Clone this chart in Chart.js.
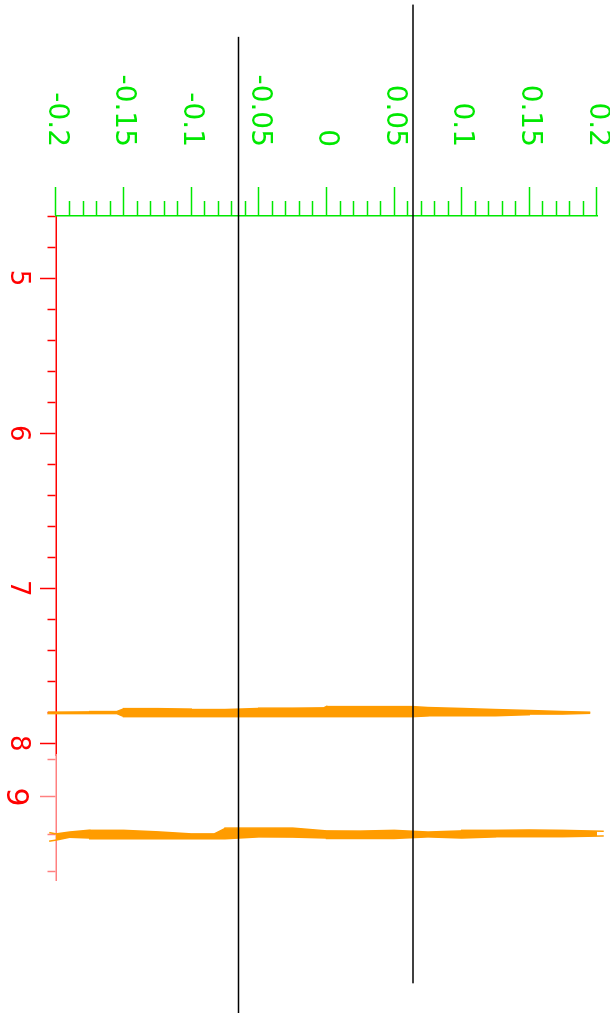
<!DOCTYPE html>
<html>
<head>
<meta charset="utf-8">
<script src="https://cdn.jsdelivr.net/npm/chart.js@4.4.1/dist/chart.umd.min.js"></script>
<style>
  html, body { margin: 0; padding: 0; background: #fff; overflow: hidden; }
  /* the chart is drawn upright and then turned a quarter clockwise */
  #wrap {
    position: absolute; left: 0; top: 0; width: 1013px; height: 610px;
    transform-origin: 0 0; transform: translate(610px, 0) rotate(90deg);
  }
</style>
</head>
<body>
<div id="wrap"><canvas id="chart" width="1013" height="610"></canvas></div>
<script>
// tick labels
const yTickLabels = ['-0.2', '-0.15', '-0.1', '-0.05', '0', '0.05', '0.1', '0.15', '0.2'];
const xTickLabels = ['5', '6', '7', '8'];
const x2TickLabels = ['9'];

// first line (near 7.8): edges of the trace along y
const band1Y  = [-0.206, -0.175, -0.155, -0.15, -0.125, -0.1, -0.075, -0.05, -0.025, -0.002, 0, 0.025, 0.05, 0.064, 0.075, 0.1, 0.125, 0.15, 0.175, 0.195];
const band1Lo = [7.799, 7.797, 7.795, 7.778, 7.776, 7.779, 7.782, 7.775, 7.773, 7.771, 7.762, 7.763, 7.762, 7.764, 7.769, 7.775, 7.782, 7.788, 7.795, 7.799];
const band1Hi = [7.806, 7.808, 7.808, 7.826, 7.827, 7.829, 7.826, 7.827, 7.827, 7.827, 7.829, 7.830, 7.828, 7.827, 7.823, 7.823, 7.821, 7.815, 7.811, 7.806];

// second line (near 9.2)
const band2Y  = [-0.223, -0.205, -0.2, -0.19, -0.175, -0.15, -0.125, -0.1, -0.083, -0.075, -0.05, -0.025, 0, 0.025, 0.05, 0.075, 0.1, 0.125, 0.15, 0.175, 0.205];
const band2Lo = [9.181, 9.190, 9.197, 9.187, 9.177, 9.178, 9.186, 9.197, 9.197, 9.168, 9.166, 9.166, 9.181, 9.182, 9.178, 9.187, 9.181, 9.178, 9.176, 9.178, 9.183];
const band2Hi = [9.192, 9.236, 9.230, 9.215, 9.219, 9.224, 9.224, 9.224, 9.224, 9.219, 9.213, 9.214, 9.219, 9.224, 9.219, 9.213, 9.219, 9.213, 9.211, 9.213, 9.208];

// black marker lines
const markerLevels = [-0.065, 0.064];
const markerFrom = [3.445, 3.237];
const markerTo = [9.8, 9.547];

const GREEN = '#00e800';
const RED = '#ff0000';
const PINK = '#ff8080';
const ORANGE = '#ff9c00';
const FONT = 'DejaVu Sans';

const toPoints = (ys, xs) => ys.map((y, i) => ({x: xs[i], y: y}));
const isLabelled = (labels, value) => labels.includes(String(value));

function markerDataset(i) {
    return {
        data: [{x: markerFrom[i], y: markerLevels[i]}, {x: markerTo[i], y: markerLevels[i]}],
        xAxisID: 'x',
        borderColor: '#000',
        borderWidth: 1.5,
        pointRadius: 0,
        fill: false,
        clip: false
    };
}

function edgeDataset(ys, xs, axisId, fill) {
    return {
        data: toPoints(ys, xs),
        xAxisID: axisId,
        borderColor: ORANGE,
        backgroundColor: ORANGE,
        borderWidth: 1.5,
        pointRadius: 0,
        fill: fill,
        clip: false
    };
}

function xAxis(labels, min, max, weight, color, size) {
    return {
        type: 'linear',
        axis: 'x',
        position: 'bottom',
        stack: 'red',
        stackWeight: weight,
        min: min,
        max: max,
        afterFit: s => { s.height = 56; },
        border: {color: color, width: 1.5},
        grid: {
            drawOnChartArea: false,
            tickLength: 16,
            tickColor: color,
            tickWidth: 1.5,
            tickBorderDash: ctx => (ctx.tick && isLabelled(labels, ctx.tick.value)) ? [] : [8, 40]
        },
        ticks: {
            stepSize: 0.2,
            autoSkip: false,
            includeBounds: false,
            minRotation: 0,
            maxRotation: 0,
            padding: 7,
            color: RED,
            font: {family: FONT, size: size},
            callback: v => isLabelled(labels, v) ? String(v) : ''
        }
    };
}

new Chart(document.getElementById('chart'), {
    type: 'line',
    data: {
        datasets: [
            markerDataset(0),
            markerDataset(1),
            edgeDataset(band1Y, band1Lo, 'x', false),
            edgeDataset(band1Y, band1Hi, 'x', '-1'),
            edgeDataset(band2Y, band2Lo, 'x2', false),
            edgeDataset(band2Y, band2Hi, 'x2', '-1')
        ]
    },
    options: {
        responsive: false,
        animation: false,
        indexAxis: 'y',
        layout: {padding: {top: 13, right: 133, left: 0, bottom: 0}},
        plugins: {legend: {display: false}, tooltip: {enabled: false}},
        scales: {
            x: xAxis(xTickLabels, 4.6, 8.075, 539, RED, 26),
            x2: xAxis(x2TickLabels, 8.776, 9.443, 125, PINK, 30),
            y: {
                type: 'linear',
                position: 'left',
                min: -0.2,
                max: 0.2,
                afterFit: s => { s.width = 216; s.paddingTop = 0; s.paddingBottom = 0; },
                border: {color: GREEN, width: 1.5},
                grid: {
                    drawOnChartArea: false,
                    tickLength: 29,
                    tickColor: GREEN,
                    tickWidth: 1.5,
                    tickBorderDash: ctx => (ctx.tick && isLabelled(yTickLabels, ctx.tick.value)) ? [] : [0, 14, 15, 60]
                },
                ticks: {
                    stepSize: 0.01,
                    autoSkip: false,
                    includeBounds: false,
                    padding: 40,
                    color: GREEN,
                    font: {family: FONT, size: 28},
                    callback: v => isLabelled(yTickLabels, v) ? String(v) : ''
                }
            }
        }
    }
});
</script>
</body>
</html>
